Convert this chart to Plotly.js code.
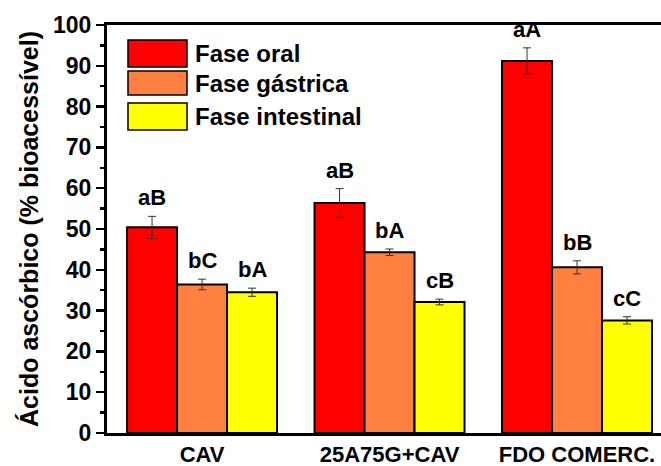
<!DOCTYPE html>
<html>
<head>
<meta charset="utf-8">
<script src="https://cdn.plot.ly/plotly-3.0.1.min.js"></script>
<style>html,body{margin:0;padding:0;background:#fff;}#chart{width:661px;height:466px;}</style>
</head>
<body>
<div id="chart"></div>
<script>
const categories = ["CAV", "25A75G+CAV", "FDO COMERC."];
const seriesNames = ["Fase oral", "Fase gástrica", "Fase intestinal"];
const oralValues = [50.4, 56.4, 91.2];
const oralErrors = [2.7, 3.5, 3.2];
const oralLabels = ["aB", "aB", "aA"];
const gastricValues = [36.4, 44.3, 40.6];
const gastricErrors = [1.3, 0.8, 1.6];
const gastricLabels = ["bC", "bA", "bB"];
const intestinalValues = [34.5, 32.1, 27.6];
const intestinalErrors = [1.0, 0.7, 0.9];
const intestinalLabels = ["bA", "cB", "cC"];
const yTicks = [0, 10, 20, 30, 40, 50, 60, 70, 80, 90, 100];

const colors = ["#ff0000", "#ff8040", "#ffff00"];
const values = [oralValues, gastricValues, intestinalValues];
const errors = [oralErrors, gastricErrors, intestinalErrors];
const labels = [oralLabels, gastricLabels, intestinalLabels];

const FONT = "Liberation Sans, Arial, sans-serif";

const traces = values.map((v, i) => ({
  type: "bar",
  name: seriesNames[i],
  x: categories,
  y: v,
  marker: {color: colors[i], line: {color: "#000", width: 2}},
  error_y: {type: "data", array: errors[i], visible: true, color: "#333", thickness: 1, width: 4},
  showlegend: false
}));

const annotations = [];
values.forEach((v, i) => {
  v.forEach((val, j) => {
    annotations.push({
      x: categories[j], y: val + errors[i][j], xref: "x", yref: "y",
      text: "<b>" + labels[i][j] + "</b>", showarrow: false,
      xshift: (i - 1) * 50, yshift: 4, yanchor: "bottom",
      font: {family: FONT, size: 22, color: "#000"}
    });
  });
});

// custom legend (large swatches)
const L = 107, W = 554, T = 25, H = 408;
const px = x => (x - L) / W;
const py = y => (T + H - y) / H;
const swatches = [[40, 67], [71, 95], [103, 130]];
const shapes = swatches.map((s, i) => ({
  type: "rect", xref: "paper", yref: "paper",
  x0: px(128), x1: px(187), y0: py(s[1]), y1: py(s[0]),
  fillcolor: colors[i], line: {color: "#000", width: 1.5}
}));
swatches.forEach((s, i) => {
  annotations.push({
    xref: "paper", yref: "paper", x: px(193), y: py((s[0] + s[1]) / 2),
    xanchor: "left", yanchor: "middle", showarrow: false,
    text: "<b>" + seriesNames[i] + "</b>",
    font: {family: FONT, size: 24, color: "#000"}
  });
});

const layout = {
  width: 661, height: 466,
  margin: {l: L, r: 0, t: T, b: 466 - T - H, pad: 0},
  paper_bgcolor: "#fff", plot_bgcolor: "#fff",
  barmode: "group", bargap: 0.2, bargroupgap: 0,
  xaxis: {
    type: "category", range: [-0.507, 2.448],
    showline: true, linecolor: "#000", linewidth: 3, mirror: true,
    ticks: "", showgrid: false, zeroline: false,
    tickfont: {family: FONT, size: 22, color: "#000"},
    tickprefix: "<b>", ticksuffix: "</b>"
  },
  yaxis: {
    range: [0, 100], tickvals: yTicks, ticktext: yTicks.map(t => "<b>" + t + "</b>"),
    showline: true, linecolor: "#000", linewidth: 3,
    ticks: "outside", ticklen: 8, tickwidth: 2.5, tickcolor: "#000",
    minor: {dtick: 5, ticks: "outside", ticklen: 4, tickwidth: 2.5, tickcolor: "#000", showgrid: false},
    showgrid: false, zeroline: false,
    tickfont: {family: FONT, size: 23, color: "#000"},
    title: {text: "<b>Ácido ascórbico (% bioacessível)</b>", font: {family: FONT, size: 25, color: "#000"}, standoff: 8}
  },
  shapes: shapes,
  annotations: annotations,
  showlegend: false
};

Plotly.newPlot("chart", traces, layout, {displayModeBar: false, staticPlot: true});
</script>
</body>
</html>
